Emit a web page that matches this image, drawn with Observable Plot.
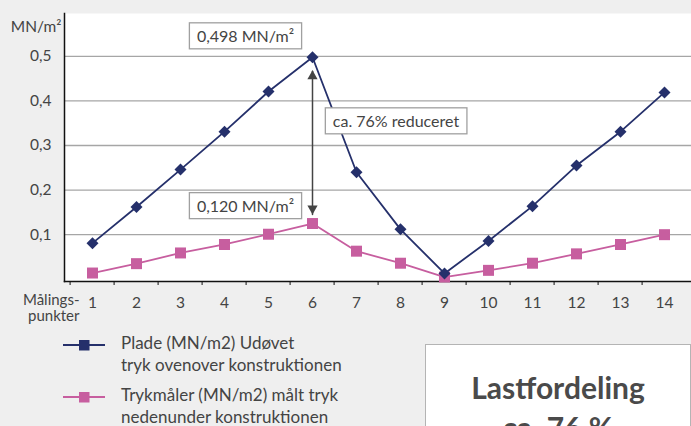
<!DOCTYPE html>
<html><head><meta charset="utf-8">
<script src="https://cdn.jsdelivr.net/npm/d3@7"></script>
<script src="https://cdn.jsdelivr.net/npm/@observablehq/plot@0.6"></script>
<style>
html,body{margin:0;padding:0;background:#efefef;}
#wrap{position:relative;width:691px;height:426px;overflow:hidden;font-family:Lato,"Noto Sans",sans-serif;color:#444;}
#chart svg{display:block;}
.leg{position:absolute;left:121px;font-size:17px;line-height:21.5px;color:#444;white-space:nowrap;}
.legsym{position:absolute;left:60px;}
#box{position:absolute;left:425px;top:344px;width:266px;height:120px;background:#fff;border:1.5px solid #b4b4b4;box-sizing:border-box;text-align:center;font-weight:bold;font-size:30px;line-height:40px;color:#4a4a4a;padding-top:22px;}
</style></head>
<body>
<div id="wrap">
  <div id="chart"></div>
  <div id="legend"></div>
  <div id="box"></div>
</div>
<script>
// ---- data ----
const points = [1,2,3,4,5,6,7,8,9,10,11,12,13,14];
const plade  = [0.081,0.162,0.246,0.331,0.421,0.498,0.240,0.112,0.013,0.086,0.164,0.255,0.331,0.419];
const tryk   = [0.014,0.035,0.059,0.078,0.101,0.125,0.063,0.036,0.005,0.020,0.036,0.057,0.078,0.100];
const yTicks = [0.1,0.2,0.3,0.4,0.5];
const yUnit = "MN/m²";
const xTitle = ["Målings-", "punkter"];
const seriesNames = [["Plade (MN/m2) Udøvet","tryk ovenover konstruktionen"],
                     ["Trykmåler (MN/m2) målt tryk","nedenunder konstruktionen"]];
const annoTexts = ["0,498 MN/m²", "0,120 MN/m²", "ca. 76% reduceret"];
const boxTexts = ["Lastfordeling", "ca. 76 %"];

const navy = "#25306b", pink = "#c75e9f", ink = "#444";
const rows = points.map((p,i)=>({pt:p, plade:plade[i], tryk:tryk[i]}));
const iPeak = d3.maxIndex(plade);
const peak = rows[iPeak];

const W = 691, H = 325, mL = 64, mR = 0, mT = 13, mB = 44;
const step = (W - mL - mR) / points.length;
const fmt = d => d.toFixed(1).replace(".", ",");

const chart = Plot.plot({
  width: W, height: H,
  marginLeft: mL, marginRight: mR, marginTop: mT, marginBottom: mB,
  style: {background: "transparent", fontFamily: "Lato, 'Noto Sans', sans-serif", color: ink},
  x: {type: "point", domain: points, padding: 0.5},
  y: {domain: [-0.005, 0.596]},
  marks: [
    Plot.frame({fill: "white"}),
    Plot.gridY(yTicks, {stroke: "#a6a6a6", strokeOpacity: 1, strokeWidth: 1.3}),
    Plot.frame({anchor: "left", stroke: "#111", strokeWidth: 1.5}),
    Plot.frame({anchor: "bottom", stroke: "#111", strokeWidth: 1.5}),
    Plot.axisY(yTicks, {tickSize: 0, tickPadding: 13, tickFormat: fmt, fontSize: 15.5, label: null, fill: ink}),
    Plot.axisX(points, {tickSize: 4, tickFormat: () => "", dx: -step/2, label: null, stroke: "#111"}),
    Plot.axisX(points, {tickSize: 0, tickPadding: 15, fontSize: 15.5, label: null, fill: ink}),
    Plot.text([yUnit], {frameAnchor: "top-left", textAnchor: "end", dx: -3, dy: 7, fontSize: 15.5, fill: ink}),
    Plot.text([xTitle.join("\n")], {frameAnchor: "bottom-left", textAnchor: "end", lineAnchor: "top", dx: 15, dy: 12, lineHeight: 1.07, fontSize: 15, fill: ink}),
    // pink series
    Plot.line(rows, {x: "pt", y: "tryk", stroke: pink, strokeWidth: 1.8}),
    Plot.dot(rows, {x: "pt", y: "tryk", symbol: "square", r: 6.2, fill: pink}),
    // navy series
    Plot.line(rows, {x: "pt", y: "plade", stroke: navy, strokeWidth: 1.8}),
    Plot.dot(rows, {x: "pt", y: "plade", symbol: "diamond2", r: 5.4, fill: navy}),
    // double arrow
    Plot.arrow([peak], {x1: "pt", y1: "plade", x2: "pt", y2: "tryk", insetStart: 14, insetEnd: 9, headLength: 0, stroke: ink, strokeWidth: 1.5, bend: 0}),
    Plot.dot([peak], {x: "pt", y: "plade", symbol: "triangle", r: 3.8, fill: ink, dy: 19}),
    Plot.dot([peak], {x: "pt", y: "tryk", symbol: "triangle", r: 3.8, fill: ink, rotate: 180, dy: -15}),
    // annotation labels
    Plot.text([peak], {x: "pt", y: "plade", text: () => annoTexts[0], dx: -67, dy: -20, fontSize: 16, fill: ink, className: "anno"}),
    Plot.text([peak], {x: "pt", y: "tryk", text: () => annoTexts[1], dx: -67, dy: -16.5, fontSize: 16, fill: ink, className: "anno"}),
    Plot.text([peak], {x: "pt", y: "plade", text: () => annoTexts[2], dx: 83.5, dy: 65, fontSize: 16, fill: ink, className: "anno"})
  ]
});
document.getElementById("chart").appendChild(chart);

// boxes behind annotation texts
d3.select(chart).selectAll("g.anno text").each(function(){
  const b = this.getBBox();
  const px = 7.5, py = 3.5;
  d3.select(this.parentNode).insert("rect", () => this)
    .attr("x", b.x - px).attr("y", b.y - py)
    .attr("width", b.width + 2*px).attr("height", b.height + 2*py)
    .attr("fill", "white").attr("stroke", "#a0a0a0").attr("stroke-width", 1.3)
    .attr("transform", this.getAttribute("transform"));
});

// legend
const legend = document.getElementById("legend");
const legY = [345, 397];
[navy, pink].forEach((c, i) => {
  const s = document.createElementNS("http://www.w3.org/2000/svg", "svg");
  s.setAttribute("width", 48); s.setAttribute("height", 14);
  s.setAttribute("class", "legsym");
  s.style.top = (legY[i] - 7) + "px";
  s.innerHTML = `<line x1="3" x2="45" y1="7" y2="7" stroke="${c}" stroke-width="2"/><rect x="19" y="2" width="10.5" height="10.5" fill="${c}"/>`;
  legend.appendChild(s);
  const t = document.createElement("div");
  t.className = "leg";
  t.style.top = (legY[i] - 13) + "px";
  t.innerHTML = seriesNames[i].join("<br>");
  legend.appendChild(t);
});
document.getElementById("box").innerHTML = boxTexts.join("<br>");
</script>
</body></html>
